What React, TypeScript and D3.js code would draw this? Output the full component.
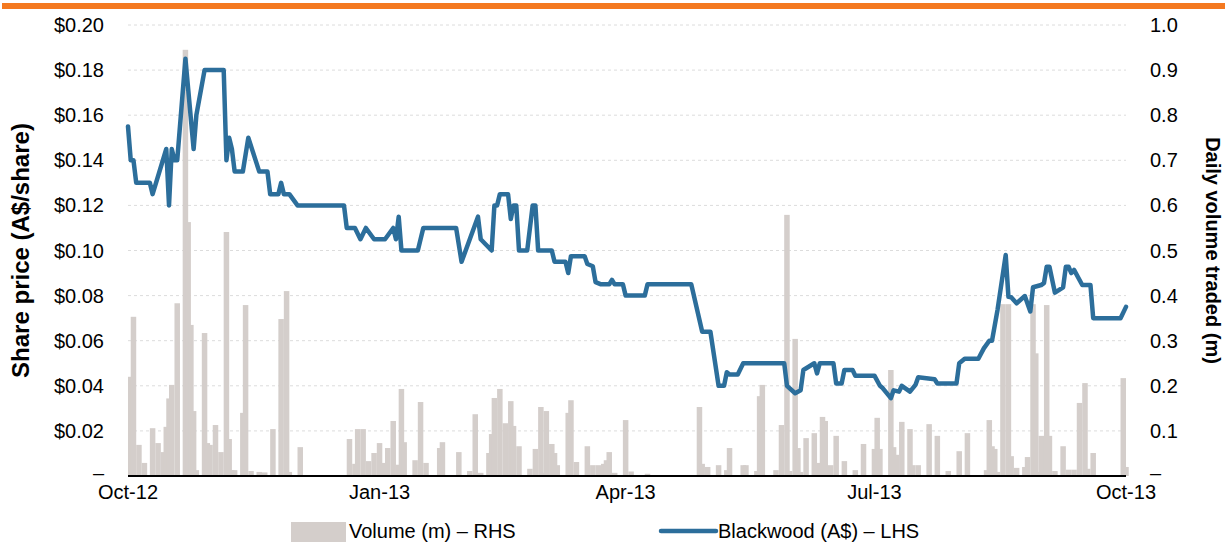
import React from "react";
import * as d3 from "d3";

// ---------- DATA ----------
// Daily volume traded (millions of shares) – RHS
const volume: [string, number][] = [
  ["2012-10-02", 0.22], ["2012-10-03", 0.353], ["2012-10-05", 0.069], ["2012-10-07", 0.029],
  ["2012-10-10", 0.106], ["2012-10-12", 0.073], ["2012-10-14", 0.053], ["2012-10-15", 0.109],
  ["2012-10-16", 0.172], ["2012-10-17", 0.202], ["2012-10-19", 0.383], ["2012-10-22", 0.945],
  ["2012-10-23", 0.563], ["2012-10-24", 0.335], ["2012-10-25", 0.144], ["2012-10-26", 0.013],
  ["2012-10-29", 0.317], ["2012-10-30", 0.073], ["2012-10-31", 0.069], ["2012-11-02", 0.113],
  ["2012-11-04", 0.053], ["2012-11-06", 0.541], ["2012-11-07", 0.082], ["2012-11-08", 0.013],
  ["2012-11-09", 0.013], ["2012-11-12", 0.14], ["2012-11-13", 0.379], ["2012-11-15", 0.011],
  ["2012-11-18", 0.009], ["2012-11-20", 0.008], ["2012-11-23", 0.104], ["2012-11-26", 0.348],
  ["2012-11-28", 0.41], ["2012-11-29", 0.009], ["2012-12-03", 0.064],
  ["2012-12-21", 0.082], ["2012-12-23", 0.027], ["2012-12-24", 0.104], ["2012-12-26", 0.104],
  ["2012-12-28", 0.033], ["2012-12-30", 0.051], ["2013-01-01", 0.073], ["2013-01-02", 0.029],
  ["2013-01-04", 0.062], ["2013-01-06", 0.122], ["2013-01-08", 0.025], ["2013-01-09", 0.193],
  ["2013-01-10", 0.075], ["2013-01-14", 0.035], ["2013-01-16", 0.164], ["2013-01-18", 0.029],
  ["2013-01-23", 0.062], ["2013-01-24", 0.075], ["2013-01-30", 0.053], ["2013-02-03", 0.011],
  ["2013-02-05", 0.137], ["2013-02-07", 0.007], ["2013-02-10", 0.051], ["2013-02-11", 0.093],
  ["2013-02-12", 0.173], ["2013-02-14", 0.193], ["2013-02-16", 0.117], ["2013-02-18", 0.166],
  ["2013-02-19", 0.111], ["2013-02-21", 0.066], ["2013-02-25", 0.016], ["2013-02-27", 0.06],
  ["2013-03-01", 0.153], ["2013-03-02", 0.007], ["2013-03-03", 0.144], ["2013-03-05", 0.071],
  ["2013-03-06", 0.051], ["2013-03-07", 0.024], ["2013-03-11", 0.14], ["2013-03-12", 0.168],
  ["2013-03-14", 0.031], ["2013-03-18", 0.066], ["2013-03-20", 0.024], ["2013-03-22", 0.024],
  ["2013-03-24", 0.027], ["2013-03-25", 0.035], ["2013-03-26", 0.053], ["2013-03-28", 0.007],
  ["2013-04-01", 0.124], ["2013-04-03", 0.01], ["2013-04-09", 0.005], ["2013-04-28", 0.153],
  ["2013-04-29", 0.027], ["2013-05-01", 0.02], ["2013-05-05", 0.024], ["2013-05-08", 0.013],
  ["2013-05-09", 0.062], ["2013-05-14", 0.024], ["2013-05-15", 0.024], ["2013-05-19", 0.011],
  ["2013-05-20", 0.177], ["2013-05-21", 0.202], ["2013-05-26", 0.013], ["2013-05-28", 0.113],
  ["2013-05-30", 0.579], ["2013-05-31", 0.011], ["2013-06-02", 0.304], ["2013-06-03", 0.062],
  ["2013-06-04", 0.009], ["2013-06-06", 0.084], ["2013-06-09", 0.095], ["2013-06-11", 0.029],
  ["2013-06-12", 0.131], ["2013-06-13", 0.122], ["2013-06-15", 0.024], ["2013-06-17", 0.089],
  ["2013-06-20", 0.033], ["2013-06-24", 0.013], ["2013-06-27", 0.071], ["2013-07-01", 0.06],
  ["2013-07-02", 0.129], ["2013-07-03", 0.06], ["2013-07-07", 0.235], ["2013-07-08", 0.064],
  ["2013-07-09", 0.047], ["2013-07-11", 0.12], ["2013-07-14", 0.104], ["2013-07-15", 0.024],
  ["2013-07-17", 0.024], ["2013-07-21", 0.115], ["2013-07-24", 0.089], ["2013-07-28", 0.011],
  ["2013-08-01", 0.055], ["2013-08-04", 0.095], ["2013-08-11", 0.013], ["2013-08-12", 0.124],
  ["2013-08-13", 0.066], ["2013-08-14", 0.06], ["2013-08-15", 0.009], ["2013-08-17", 0.381],
  ["2013-08-19", 0.381], ["2013-08-20", 0.044], ["2013-08-22", 0.018], ["2013-08-25", 0.02],
  ["2013-08-26", 0.042], ["2013-08-28", 0.381], ["2013-08-29", 0.272], ["2013-08-30", 0.009],
  ["2013-08-31", 0.089], ["2013-09-02", 0.379], ["2013-09-03", 0.089], ["2013-09-05", 0.011],
  ["2013-09-08", 0.066], ["2013-09-10", 0.014], ["2013-09-12", 0.014], ["2013-09-14", 0.162],
  ["2013-09-16", 0.206], ["2013-09-17", 0.016], ["2013-09-19", 0.051], ["2013-09-30", 0.217],
  ["2013-10-01", 0.02],
];

// Blackwood share price (A$) – LHS
const price: [string, number][] = [
  ["2012-10-01", 0.155], ["2012-10-02", 0.14], ["2012-10-03", 0.14], ["2012-10-04", 0.13],
  ["2012-10-09", 0.13], ["2012-10-10", 0.125], ["2012-10-15", 0.145], ["2012-10-16", 0.12],
  ["2012-10-17", 0.145], ["2012-10-18", 0.14], ["2012-10-19", 0.14], ["2012-10-22", 0.185],
  ["2012-10-25", 0.145], ["2012-10-26", 0.16], ["2012-10-29", 0.18], ["2012-11-05", 0.18],
  ["2012-11-06", 0.14], ["2012-11-07", 0.15], ["2012-11-08", 0.145], ["2012-11-09", 0.135],
  ["2012-11-12", 0.135], ["2012-11-14", 0.15], ["2012-11-18", 0.135], ["2012-11-21", 0.135],
  ["2012-11-22", 0.125], ["2012-11-25", 0.125], ["2012-11-26", 0.13], ["2012-11-27", 0.125],
  ["2012-11-29", 0.125], ["2012-12-02", 0.12], ["2012-12-19", 0.12], ["2012-12-20", 0.11],
  ["2012-12-23", 0.11], ["2012-12-25", 0.105], ["2012-12-27", 0.11], ["2012-12-30", 0.105],
  ["2013-01-03", 0.105], ["2013-01-06", 0.11], ["2013-01-07", 0.105], ["2013-01-08", 0.115],
  ["2013-01-09", 0.1], ["2013-01-15", 0.1], ["2013-01-17", 0.11], ["2013-01-29", 0.11],
  ["2013-01-31", 0.095], ["2013-02-03", 0.105], ["2013-02-06", 0.115], ["2013-02-07", 0.105],
  ["2013-02-11", 0.1], ["2013-02-12", 0.12], ["2013-02-13", 0.12], ["2013-02-14", 0.125],
  ["2013-02-17", 0.125], ["2013-02-18", 0.114], ["2013-02-19", 0.12], ["2013-02-20", 0.12],
  ["2013-02-21", 0.1], ["2013-02-24", 0.1], ["2013-02-26", 0.12], ["2013-02-27", 0.12],
  ["2013-02-28", 0.1], ["2013-03-05", 0.1], ["2013-03-06", 0.095], ["2013-03-10", 0.095],
  ["2013-03-11", 0.09], ["2013-03-12", 0.0975], ["2013-03-17", 0.0975], ["2013-03-18", 0.094],
  ["2013-03-20", 0.093], ["2013-03-21", 0.086], ["2013-03-23", 0.085], ["2013-03-26", 0.085],
  ["2013-03-27", 0.087], ["2013-03-28", 0.085], ["2013-03-31", 0.085], ["2013-04-01", 0.08],
  ["2013-04-08", 0.08], ["2013-04-09", 0.085], ["2013-04-25", 0.085], ["2013-04-29", 0.064],
  ["2013-05-02", 0.064], ["2013-05-05", 0.04], ["2013-05-07", 0.04], ["2013-05-08", 0.046],
  ["2013-05-09", 0.045], ["2013-05-12", 0.045], ["2013-05-14", 0.05], ["2013-05-29", 0.05],
  ["2013-05-30", 0.04], ["2013-06-02", 0.0367], ["2013-06-04", 0.038], ["2013-06-05", 0.047],
  ["2013-06-09", 0.05], ["2013-06-10", 0.0455], ["2013-06-11", 0.05], ["2013-06-16", 0.05],
  ["2013-06-17", 0.041], ["2013-06-19", 0.041], ["2013-06-20", 0.047], ["2013-06-23", 0.047],
  ["2013-06-24", 0.0445], ["2013-07-01", 0.0445], ["2013-07-03", 0.04], ["2013-07-04", 0.039],
  ["2013-07-07", 0.0345], ["2013-07-08", 0.038], ["2013-07-10", 0.0374], ["2013-07-11", 0.04],
  ["2013-07-14", 0.0374], ["2013-07-16", 0.0404], ["2013-07-17", 0.0438], ["2013-07-23", 0.0429],
  ["2013-07-24", 0.041], ["2013-07-31", 0.041], ["2013-08-01", 0.05], ["2013-08-03", 0.052],
  ["2013-08-08", 0.052], ["2013-08-10", 0.0566], ["2013-08-12", 0.06], ["2013-08-13", 0.06],
  ["2013-08-15", 0.0736], ["2013-08-18", 0.098], ["2013-08-19", 0.0795], ["2013-08-20", 0.0793],
  ["2013-08-22", 0.0766], ["2013-08-25", 0.0798], ["2013-08-27", 0.073], ["2013-08-28", 0.0837],
  ["2013-08-31", 0.0847], ["2013-09-01", 0.0855], ["2013-09-02", 0.0928], ["2013-09-03", 0.0928],
  ["2013-09-05", 0.0813], ["2013-09-08", 0.0837], ["2013-09-09", 0.0928], ["2013-09-10", 0.0928],
  ["2013-09-11", 0.09], ["2013-09-12", 0.0914], ["2013-09-15", 0.0847], ["2013-09-18", 0.0847],
  ["2013-09-19", 0.07], ["2013-09-29", 0.07], ["2013-10-01", 0.075],
];

const leftTicks = [0, 0.02, 0.04, 0.06, 0.08, 0.1, 0.12, 0.14, 0.16, 0.18, 0.2];
const rightTicks = [0, 0.1, 0.2, 0.3, 0.4, 0.5, 0.6, 0.7, 0.8, 0.9, 1.0];
const xTickDates = ["2012-10-01", "2013-01-01", "2013-04-01", "2013-07-01", "2013-10-01"];
const xTickFormat = "%b-%y";
const legendLabels = ["Volume (m) – RHS", "Blackwood (A$) – LHS"];
const axisTitles = { left: "Share price (A$/share)", right: "Daily volume traded (m)" };

// ---------- CHART ----------
const W = 1225;
const H = 542;
const plot = { left: 128, right: 1126, top: 25, bottom: 476 };
const FONT = "'Liberation Sans', Arial, Helvetica, sans-serif";
const BAR_COLOR = "#D4CECB";
const LINE_COLOR = "#2C6E9B";
const GRID = "#DCDCDC";

const parse = d3.timeParse("%Y-%m-%d");

export default function App() {
  const x = d3
    .scaleTime()
    .domain([parse("2012-10-01") as Date, parse("2013-10-01") as Date])
    .range([plot.left, plot.right]);
  const yL = d3.scaleLinear().domain([0, 0.2]).range([plot.bottom, plot.top]);
  const yR = d3.scaleLinear().domain([0, 1]).range([plot.bottom, plot.top]);
  const fmtX = d3.timeFormat(xTickFormat);
  const barW = 5.5;

  const lineGen = d3
    .line<[string, number]>()
    .x((d) => x(parse(d[0]) as Date))
    .y((d) => yL(d[1]));

  return (
    <svg
      width={W}
      height={H}
      style={{ position: "absolute", left: 0, top: 0, background: "#fff" }}
      fontFamily={FONT}
    >
      <rect x={0} y={0} width={W} height={H} fill="#fff" />
      {/* orange top rule */}
      <rect x={2} y={3} width={W - 2} height={6} fill="#F47920" />

      {/* gridlines */}
      {leftTicks
        .filter((t) => t > 0)
        .map((t) => (
          <line
            key={"g" + t}
            x1={plot.left}
            x2={plot.right}
            y1={yL(t)}
            y2={yL(t)}
            stroke={GRID}
            strokeWidth={1}
            strokeDasharray="3,3"
          />
        ))}

      {/* volume bars */}
      {volume.map((d, i) => {
        const cx = x(parse(d[0]) as Date);
        return (
          <rect
            key={"b" + i}
            x={cx - barW / 2}
            y={yR(d[1])}
            width={barW}
            height={plot.bottom - yR(d[1])}
            fill={BAR_COLOR}
          />
        );
      })}

      {/* x axis line */}
      <line x1={plot.left} x2={plot.right} y1={plot.bottom} y2={plot.bottom} stroke="#000" strokeWidth={2} />

      {/* price line */}
      <path
        d={lineGen(price) || ""}
        fill="none"
        stroke={LINE_COLOR}
        strokeWidth={4.5}
        strokeLinejoin="round"
        strokeLinecap="round"
      />

      {/* left tick labels */}
      {leftTicks.map((t) => (
        <text key={"l" + t} x={104} y={yL(t)} dy={t === 0 ? "0.2em" : "0.35em"} textAnchor="end" fontSize={20} fill="#000">
          {t === 0 ? "–" : "$" + t.toFixed(2)}
        </text>
      ))}

      {/* right tick labels */}
      {rightTicks.map((t) => (
        <text key={"r" + t} x={1150} y={yR(t)} dy={t === 0 ? "0.2em" : "0.35em"} textAnchor="start" fontSize={20} fill="#000">
          {t === 0 ? "–" : t.toFixed(1)}
        </text>
      ))}

      {/* x tick labels */}
      {xTickDates.map((s) => {
        const dt = parse(s) as Date;
        return (
          <text key={s} x={x(dt)} y={499} textAnchor="middle" fontSize={20} fill="#000">
            {fmtX(dt)}
          </text>
        );
      })}

      {/* axis titles */}
      <text
        transform={`translate(29, ${(plot.top + plot.bottom) / 2}) rotate(-90)`}
        textAnchor="middle"
        fontSize={24}
        fontWeight="bold"
        fill="#000"
      >
        {axisTitles.left}
      </text>
      <text
        transform={`translate(1206, ${(plot.top + plot.bottom) / 2}) rotate(90)`}
        textAnchor="middle"
        fontSize={20}
        fontWeight="bold"
        fill="#000"
      >
        {axisTitles.right}
      </text>

      {/* legend */}
      <rect x={291} y={522} width={55} height={20} fill={BAR_COLOR} />
      <text x={349} y={538} fontSize={20} fill="#000">
        {legendLabels[0]}
      </text>
      <line x1={661} x2={716} y1={531} y2={531} stroke={LINE_COLOR} strokeWidth={4.5} strokeLinecap="round" />
      <text x={718} y={538} fontSize={20} fill="#000">
        {legendLabels[1]}
      </text>
    </svg>
  );
}
